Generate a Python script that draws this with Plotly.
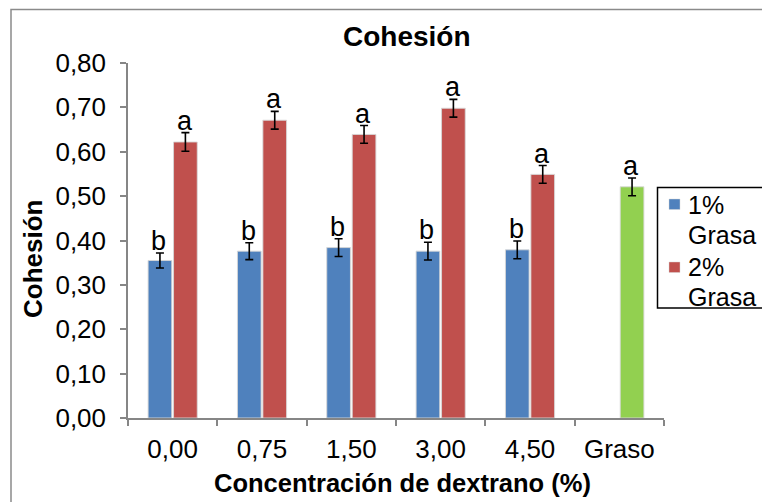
import plotly.graph_objects as go

categories = ["0,00", "0,75", "1,50", "3,00", "4,50", "Graso"]
series_names = ["1%", "2%"]
legend_second_line = "Grasa"
grasa1_vals = [0.355, 0.376, 0.384, 0.376, 0.379, None]
grasa1_err = [0.017, 0.019, 0.020, 0.020, 0.020, None]
grasa1_letters = ["b", "b", "b", "b", "b", None]
grasa2_vals = [0.622, 0.671, 0.639, 0.698, 0.549, 0.521]
grasa2_err = [0.021, 0.020, 0.020, 0.020, 0.020, 0.020]
grasa2_letters = ["a", "a", "a", "a", "a", "a"]
y_ticks = [0.0, 0.1, 0.2, 0.3, 0.4, 0.5, 0.6, 0.7, 0.8]

BLUE = "#4F81BD"
RED = "#C0504D"
GREEN = "#92D050"
FONT = "Liberation Sans, Arial, sans-serif"

W, H = 762, 502
L, R, T, B = 128, 98, 63, 84
PW, PH = W - L - R, H - T - B


def px(x):
    return (x - L) / PW


def py(y):
    return (H - B - y) / PH


red_colors = [RED] * (len(categories) - 1) + [GREEN]

fig = go.Figure()
fig.add_trace(go.Bar(
    name=series_names[0] + " " + legend_second_line, x=categories, y=grasa1_vals,
    marker=dict(color=BLUE, line=dict(color="rgba(215,215,215,0.9)", width=1)),
    error_y=dict(type="data", array=grasa1_err, color="black", thickness=1.6, width=4),
))
fig.add_trace(go.Bar(
    name=series_names[1] + " " + legend_second_line, x=categories, y=grasa2_vals,
    marker=dict(color=red_colors, line=dict(color="rgba(215,215,215,0.9)", width=1)),
    error_y=dict(type="data", array=grasa2_err, color="black", thickness=1.6, width=4),
))

annotations = []
for cat, v, e, t in zip(categories, grasa1_vals, grasa1_err, grasa1_letters):
    if v is None:
        continue
    annotations.append(dict(x=cat, y=v + e, text=t, showarrow=False, xref="x", yref="y",
                            xanchor="center", yanchor="bottom", xshift=-14, yshift=-5,
                            font=dict(size=27, color="black", family=FONT)))
for cat, v, e, t in zip(categories, grasa2_vals, grasa2_err, grasa2_letters):
    annotations.append(dict(x=cat, y=v + e, text=t, showarrow=False, xref="x", yref="y",
                            xanchor="center", yanchor="bottom", xshift=12, yshift=-5,
                            font=dict(size=27, color="black", family=FONT)))

# titles
annotations.append(dict(x=px(407), y=py(36.7), xref="paper", yref="paper", text="<b>Cohesión</b>",
                        showarrow=False, xanchor="center", yanchor="middle",
                        font=dict(size=28, color="black", family=FONT)))
annotations.append(dict(x=px(402), y=py(483), xref="paper", yref="paper",
                        text="<b>Concentración de dextrano (%)</b>",
                        showarrow=False, xanchor="center", yanchor="middle",
                        font=dict(size=25.5, color="black", family=FONT)))
annotations.append(dict(x=px(33), y=py(259), xref="paper", yref="paper", text="<b>Cohesión</b>",
                        showarrow=False, xanchor="center", yanchor="middle", textangle=-90,
                        font=dict(size=26, color="black", family=FONT)))

# outer chart border (extends beyond right and bottom edges)
shapes = [dict(type="path", xref="paper", yref="paper",
               path=f"M {px(11)},{py(530)} L {px(11)},{py(9.5)} L {px(800)},{py(9.5)}",
               line=dict(color="#8a8a8a", width=1.5), layer="below")]
# legend (drawn manually to match line spacing); box is cut by the right edge
shapes.append(dict(type="path", xref="paper", yref="paper",
                   path=(f"M {px(800)},{py(187.5)} L {px(657.5)},{py(187.5)} "
                         f"L {px(657.5)},{py(308)} L {px(800)},{py(308)} Z"),
                   line=dict(color="black", width=1.5), fillcolor="white", layer="above"))
legend_colors = [BLUE, RED]
sq_tops = [199, 262]
text_centers = [(205, 235), (267, 297)]
for name, col, top, (c1, c2) in zip(series_names, legend_colors, sq_tops, text_centers):
    shapes.append(dict(type="rect", xref="paper", yref="paper",
                       x0=px(669), x1=px(680), y0=py(top + 10.5), y1=py(top),
                       line=dict(color="rgba(215,215,215,0.9)", width=0.5), fillcolor=col, layer="above"))
    annotations.append(dict(x=px(686), y=py(c1), xref="paper", yref="paper", text=name,
                            showarrow=False, xanchor="left", yanchor="middle",
                            font=dict(size=25, color="black", family=FONT)))
    annotations.append(dict(x=px(686), y=py(c2), xref="paper", yref="paper", text=legend_second_line,
                            showarrow=False, xanchor="left", yanchor="middle",
                            font=dict(size=25, color="black", family=FONT)))

fig.update_layout(
    width=W, height=H,
    margin=dict(l=L, r=R, t=T, b=B, autoexpand=False),
    paper_bgcolor="white", plot_bgcolor="white",
    barmode="group", bargap=0.43, bargroupgap=0.07,
    separators=",.",
    font=dict(family=FONT, size=26, color="black"),
    showlegend=False,
    annotations=annotations,
    shapes=shapes,
)
fig.update_xaxes(
    type="category", showline=True, linecolor="#868686", linewidth=1.5,
    ticks="outside", tickson="boundaries", ticklen=6, tickcolor="#868686", tickwidth=1.5,
    showgrid=False, zeroline=False, ticklabelstandoff=7,
    tickfont=dict(size=26, family=FONT, color="black"),
)
fig.update_yaxes(
    range=[0, 0.8], tickvals=y_ticks, tickformat=".2f",
    showline=True, linecolor="#868686", linewidth=1.5,
    ticks="outside", ticklen=6, tickcolor="#868686", tickwidth=1.5,
    showgrid=False, zeroline=False, ticklabelstandoff=9,
    tickfont=dict(size=26, family=FONT, color="black"),
)

fig.write_html("out.html", config={"displayModeBar": False},
               post_script=("document.documentElement.style.overflow='hidden';"
                            "document.body.style.margin='0';document.body.style.overflow='hidden';"))
